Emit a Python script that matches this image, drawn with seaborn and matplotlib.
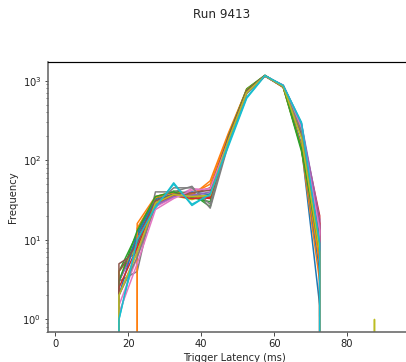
import numpy as np
import pandas as pd
import matplotlib
matplotlib.use("Agg")
import matplotlib.pyplot as plt
import seaborn as sns

# Bin centres of the latency histogram (ms)
latency = [2.5, 7.5, 12.5, 17.5, 22.5, 27.5, 32.5, 37.5, 42.5, 47.5,
           52.5, 57.5, 62.5, 67.5, 72.5, 77.5, 82.5, 87.5, 92.5, 97.5]

ch00 = [0, 0, 0, 3.0, 11, 30, 38, 36, 35, 190, 720, 1150, 840, 150, 1.5, 0, 0, 0, 0, 0]
ch01 = [0, 0, 0, 0.0, 16, 35, 40, 36, 55, 220, 780, 1160, 820, 140, 3.0, 0, 0, 0, 0, 0]
ch02 = [0, 0, 0, 4.0, 12, 33, 41, 38, 26, 200, 790, 1170, 830, 130, 8.0, 0, 0, 0, 0, 0]
ch03 = [0, 0, 0, 3.0, 10, 30, 37, 35, 33, 190, 740, 1150, 860, 250, 20, 0, 0, 0, 0, 0]
ch04 = [0, 0, 0, 3.0, 9, 28, 35, 37, 36, 180, 700, 1140, 880, 290, 18, 0, 0, 0, 0, 0]
ch05 = [0, 0, 0, 5.0, 7, 27, 36, 38, 45, 200, 760, 1150, 840, 200, 12, 0, 0, 0, 0, 0]
ch06 = [0, 0, 0, 1.5, 6, 26, 34, 44, 42, 180, 720, 1160, 850, 260, 14, 0, 0, 0, 0, 0]
ch07 = [0, 0, 0, 3.0, 4, 40, 40, 47, 25, 160, 700, 1140, 830, 220, 10, 0, 0, 0, 0, 0]
ch08 = [0, 0, 0, 4.0, 8, 30, 36, 32, 38, 190, 730, 1150, 850, 200, 6.0, 0, 0, 1, 0, 0]
ch09 = [0, 0, 0, 1.0, 9, 25, 52, 27, 38, 150, 600, 1150, 870, 300, 10, 0, 0, 0, 0, 0]
ch10 = [0, 0, 0, 2.0, 12, 32, 38, 40, 37, 200, 750, 1160, 840, 160, 4.0, 0, 0, 0, 0, 0]
ch11 = [0, 0, 0, 0.0, 14, 34, 39, 38, 50, 210, 770, 1150, 830, 150, 5.0, 0, 0, 0, 0, 0]
ch12 = [0, 0, 0, 3.0, 13, 35, 40, 34, 30, 200, 760, 1160, 840, 140, 7.0, 0, 0, 0, 0, 0]
ch13 = [0, 0, 0, 2.5, 8, 29, 36, 33, 34, 185, 720, 1150, 860, 240, 16, 0, 0, 0, 0, 0]
ch14 = [0, 0, 0, 2.0, 7, 27, 35, 36, 40, 170, 690, 1140, 870, 280, 15, 0, 0, 0, 0, 0]
ch15 = [0, 0, 0, 4.0, 9, 31, 37, 39, 42, 195, 740, 1150, 850, 210, 11, 0, 0, 0, 0, 0]
ch16 = [0, 0, 0, 1.2, 5, 24, 33, 42, 44, 175, 700, 1150, 860, 250, 13, 0, 0, 0, 0, 0]
ch17 = [0, 0, 0, 2.0, 6, 28, 45, 45, 28, 170, 690, 1140, 840, 230, 9.0, 0, 0, 0, 0, 0]
ch18 = [0, 0, 0, 2.0, 7, 29, 37, 35, 36, 180, 710, 1150, 850, 190, 7.0, 0, 0, 0, 0, 0]
ch19 = [0, 0, 0, 1.0, 10, 26, 50, 28, 37, 160, 620, 1160, 870, 290, 9.0, 0, 0, 0, 0, 0]

channels = [ch00, ch01, ch02, ch03, ch04, ch05, ch06, ch07, ch08, ch09,
            ch10, ch11, ch12, ch13, ch14, ch15, ch16, ch17, ch18, ch19]

title = "Run 9413"
xlabel = "Trigger Latency (ms)"
ylabel = "Frequency"

rows = []
for i, ch in enumerate(channels):
    for x, y in zip(latency, ch):
        rows.append({"series": f"ch{i:02d}", "latency": x, "count": y})
df = pd.DataFrame(rows)

sns.set_style("ticks")
plt.rcParams["font.family"] = ["DejaVu Sans"]

fig = plt.figure(figsize=(406 / 72, 362 / 72), dpi=72)
ax = fig.add_axes([48.3 / 406, (362 - 331.7) / 362, 371.8 / 406, 269.7 / 362])

palette = list(sns.color_palette("tab10", 10)) * 2
sns.lineplot(data=df, x="latency", y="count", hue="series", palette=palette,
             estimator=None, sort=False, legend=False, linewidth=1.5, ax=ax)

ax.set_yscale("log", nonpositive="clip")
ax.set_ylim(0.70, 1716)
ax.set_xlim(-1.85, 100)
ax.set_xticks([0, 20, 40, 60, 80])

ax.tick_params(axis="both", labelsize=10, colors="#222222", length=3.5)
ax.tick_params(axis="y", which="minor", length=2)
ax.set_xlabel(xlabel, fontsize=10, labelpad=4)
ax.set_ylabel(ylabel, fontsize=10, labelpad=4)

for side in ["left", "bottom"]:
    ax.spines[side].set_color("#666666")
    ax.spines[side].set_linewidth(1.6)
ax.spines["top"].set_visible(True)
ax.spines["top"].set_color("black")
ax.spines["top"].set_linewidth(1.2)
ax.spines["right"].set_visible(False)

fig.text(222 / 406, 1 - 14 / 362, title, ha="center", va="center", fontsize=12)

fig.savefig("out.png", dpi=72)
